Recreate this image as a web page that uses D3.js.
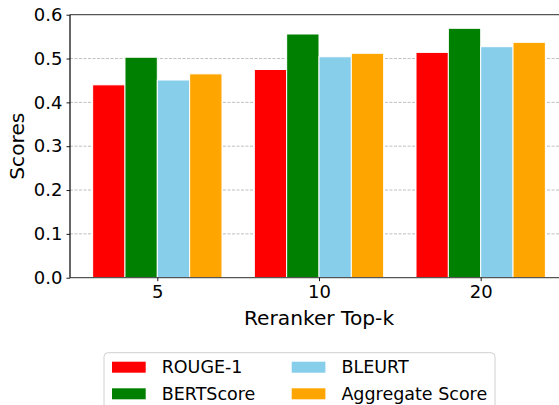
<!DOCTYPE html>
<html>
<head>
<meta charset="utf-8">
<script src="https://cdn.jsdelivr.net/npm/d3@7"></script>
<style>
  body { margin: 0; background: #fff; }
  svg { font-family: "DejaVu Sans", sans-serif; display: block; }
</style>
</head>
<body>
<div id="chart"></div>
<script>
  // data
  var topK = ['5', '10', '20']
  var metrics = ['ROUGE-1', 'BERTScore', 'BLEURT', 'Aggregate Score']
  var colors = ['#ff0000', '#008000', '#87ceeb', '#ffa500']
  var rouge1 = [0.440, 0.475, 0.514]
  var bertScore = [0.503, 0.556, 0.569]
  var bleurt = [0.451, 0.504, 0.527]
  var aggregate = [0.465, 0.512, 0.537]
  var yTicks = [0, 0.1, 0.2, 0.3, 0.4, 0.5, 0.6]

  var series = [rouge1, bertScore, bleurt, aggregate]

  var margin = { left: 70, top: 14.7 }
  var width = 498, height = 263

  var svg = d3.select('#chart')
    .append('svg')
    .attr('width', 559)
    .attr('height', 405)

  var g = svg.append('g')
    .attr('transform', `translate(${margin.left},${margin.top})`)

  // group index -> x, matplotlib style limits
  var xScale = d3.scaleLinear().domain([-0.54, 2.54]).range([0, width])
  var yScale = d3.scaleLinear().domain([0, 0.6]).range([height, 0])
  var barW = 0.2

  // dashed grid behind bars
  g.append('g')
    .selectAll('line')
    .data(yTicks.slice(1, -1))
    .enter().append('line')
    .attr('x1', 0).attr('x2', width)
    .attr('y1', d => yScale(d)).attr('y2', d => yScale(d))
    .attr('stroke', '#b0b0b0')
    .attr('stroke-width', 0.8)
    .attr('stroke-dasharray', '3,1.5')

  series.forEach(function(vals, si) {
    g.append('g')
      .selectAll('rect')
      .data(vals)
      .enter().append('rect')
      .attr('x', (d, i) => xScale(i + (si - 2) * barW))
      .attr('width', xScale(barW) - xScale(0))
      .attr('y', d => yScale(d))
      .attr('height', d => yScale(0) - yScale(d))
      .attr('fill', colors[si])
      .attr('stroke', '#fff')
      .attr('stroke-width', 1)
  })

  // frame
  g.append('line').attr('x1', 0).attr('x2', width).attr('y1', 0).attr('y2', 0)
    .attr('stroke', '#555').attr('stroke-width', 1.2)
  g.append('line').attr('x1', 0).attr('x2', width).attr('y1', height).attr('y2', height)
    .attr('stroke', '#555').attr('stroke-width', 1.2)

  var yAxis = d3.axisLeft(yScale)
    .tickValues(yTicks)
    .tickFormat(d3.format('.1f'))
    .tickSize(3.5)
    .tickPadding(4)
  g.append('g')
    .attr('class', 'axis y-axis')
    .call(yAxis)
    .call(a => a.select('.domain').attr('stroke', '#000').attr('stroke-width', 1.2).attr('d', `M0,0V${height}`))

  var xAxis = d3.axisBottom(xScale)
    .tickValues([0, 1, 2])
    .tickFormat(i => topK[i])
    .tickSize(3.5)
    .tickPadding(4)
  g.append('g')
    .attr('class', 'axis x-axis')
    .attr('transform', `translate(0,${height})`)
    .call(xAxis)
    .call(a => a.select('.domain').remove())

  svg.selectAll('.axis text')
    .attr('font-size', 18)
    .attr('fill', '#000')
    .attr('font-family', '"DejaVu Sans", sans-serif')
  svg.selectAll('.axis .tick line').attr('stroke', '#000').attr('stroke-width', 0.9)

  // axis titles
  svg.append('text')
    .attr('x', margin.left + width / 2)
    .attr('y', 324.5)
    .attr('text-anchor', 'middle')
    .attr('font-size', 20.2)
    .text('Reranker Top-k')

  svg.append('text')
    .attr('transform', `translate(24,${margin.top + height / 2}) rotate(-90)`)
    .attr('text-anchor', 'middle')
    .attr('font-size', 20.2)
    .text('Scores')

  // legend, two columns
  var legend = svg.append('g').attr('transform', 'translate(104,352.7)')
  legend.append('rect')
    .attr('width', 391).attr('height', 70)
    .attr('rx', 4)
    .attr('fill', '#fff')
    .attr('stroke', '#d0d0d0')
    .attr('stroke-width', 1)

  metrics.forEach(function(m, i) {
    var col = Math.floor(i / 2), row = i % 2
    var item = legend.append('g')
      .attr('transform', `translate(${8 + col * 179.7},${9 + row * 26.6})`)
    item.append('rect')
      .attr('width', 33.7).attr('height', 11)
      .attr('fill', colors[i])
    item.append('text')
      .attr('x', 49.7)
      .attr('y', 5.5)
      .attr('dy', '0.35em')
      .attr('font-size', 17.5)
      .text(m)
  })
</script>
</body>
</html>
